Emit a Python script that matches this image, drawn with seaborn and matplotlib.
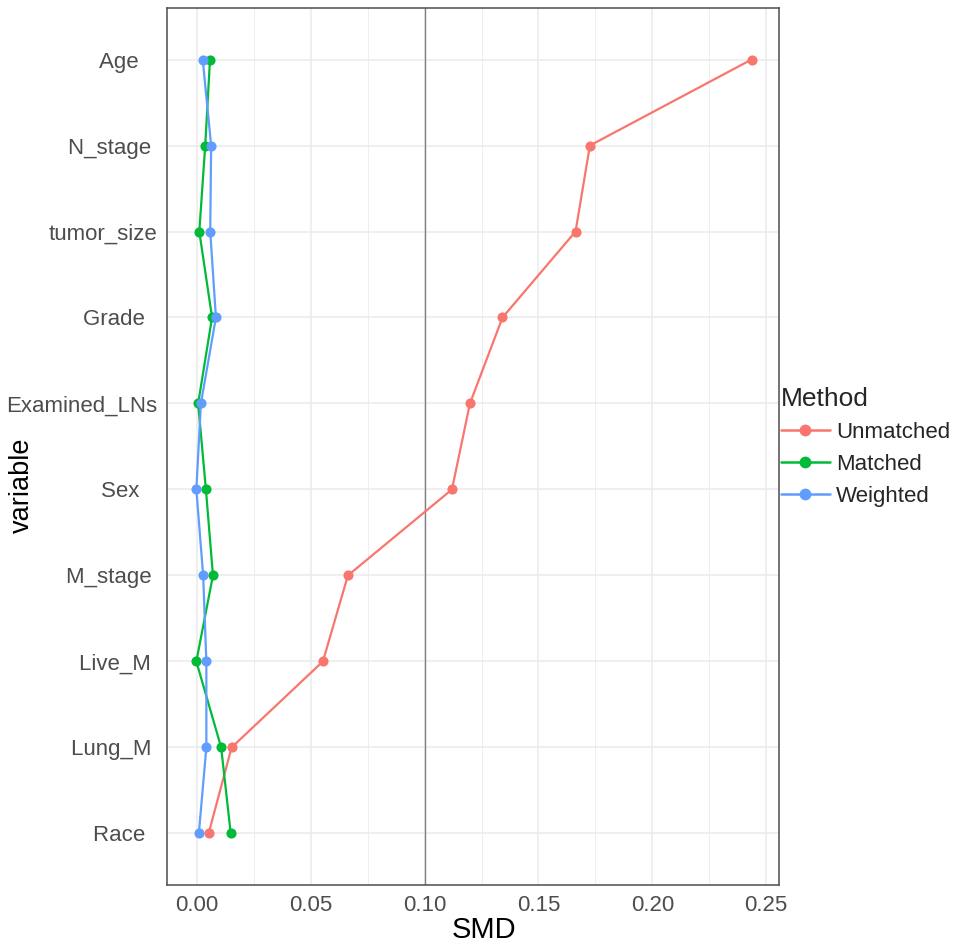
import numpy as np
import pandas as pd
import matplotlib
matplotlib.use("Agg")
import matplotlib.pyplot as plt
import seaborn as sns
from matplotlib.ticker import MultipleLocator

sns.set_style("white")
plt.rcParams['font.family'] = ['Liberation Sans', 'DejaVu Sans']

# bottom to top, as on the y axis
variables = ["Race", "Lung_M", "Live_M", "M_stage", "Sex",
             "Examined_LNs", "Grade", "tumor_size", "N_stage", "Age"]
tick_labels = ["Race  ", "Lung_M ", "Live_M ", "M_stage ", "Sex   ",
               "Examined_LNs", "Grade  ", "tumor_size", "N_stage ", "Age   "]
unmatched = [0.0051, 0.0152, 0.0553, 0.0663, 0.1120, 0.1199, 0.1342, 0.1663, 0.1726, 0.2436]
matched = [0.0148, 0.0106, -0.0003, 0.0070, 0.0039, 0.0005, 0.0066, 0.0010, 0.0036, 0.0057]
weighted = [0.0008, 0.0041, 0.0041, 0.0027, -0.0003, 0.0017, 0.0083, 0.0058, 0.0062, 0.0025]
methods = ["Unmatched", "Matched", "Weighted"]
palette = ["#F8766D", "#00BA38", "#619CFF"]
x_ticks = [0.00, 0.05, 0.10, 0.15, 0.20, 0.25]

rows = []
for method, vals in zip(methods, [unmatched, matched, weighted]):
    for i, (var, v) in enumerate(zip(variables, vals)):
        rows.append({'variable': var, 'pos': i + 1, 'SMD': v, 'Method': method})
df = pd.DataFrame(rows)

fig = plt.figure(figsize=(9.58, 9.47), dpi=100)
ax = fig.add_axes([0.1743, 0.0655, 0.8132 - 0.1743, 0.9916 - 0.0655])

ax.axvline(0.1, color='#808080', linewidth=1.0, zorder=1.5)

sns.lineplot(data=df, x='SMD', y='pos', hue='Method', hue_order=methods,
             palette=palette, sort=False, estimator=None, marker='o',
             markersize=7.3, markeredgewidth=0, linewidth=1.6, ax=ax, zorder=3)

ax.set_xlim(-0.0132, 0.2557)
ax.set_ylim(0.4, len(variables) + 0.6)
ax.set_xticks(x_ticks)
ax.set_xticklabels([f"{t:.2f}" for t in x_ticks])
ax.xaxis.set_minor_locator(MultipleLocator(0.025))
ax.set_yticks(range(1, len(variables) + 1))
ax.set_yticklabels(tick_labels)

ax.grid(True, which='major', color='#EBEBEB', linewidth=1.1, zorder=0)
ax.grid(True, which='minor', axis='x', color='#EBEBEB', linewidth=0.6, zorder=0)
ax.set_axisbelow(True)

for s in ax.spines.values():
    s.set_color('#4D4D4D')
    s.set_linewidth(1.1)

ax.tick_params(axis='both', which='major', length=4, width=1, color='#333333',
               labelcolor='#4D4D4D', labelsize=16, pad=3)
ax.tick_params(axis='both', which='minor', length=0)

ax.set_xlabel('SMD', fontsize=21, color='black')
ax.xaxis.set_label_coords(0.518, -0.0513)
ax.xaxis.label.set_va('center')
ax.set_ylabel('variable', fontsize=19.5, color='black')
ax.yaxis.set_label_coords(-0.237, 0.456)
ax.yaxis.label.set_va('center')
ax.yaxis.label.set_ha('center')

handles, labels = ax.get_legend_handles_labels()
ax.get_legend().remove()
for h in handles:
    h.set_markersize(8.5)
    h.set_linewidth(1.8)
leg = fig.legend(handles, labels, title='Method', loc='center left',
                 bbox_to_anchor=(0.815, 0.528), frameon=False, fontsize=16,
                 title_fontsize=19, handlelength=2.2, handletextpad=0.3,
                 labelspacing=0.5, borderpad=0, borderaxespad=0)
leg._legend_box.align = "left"

fig.savefig('out.png', dpi=100)
